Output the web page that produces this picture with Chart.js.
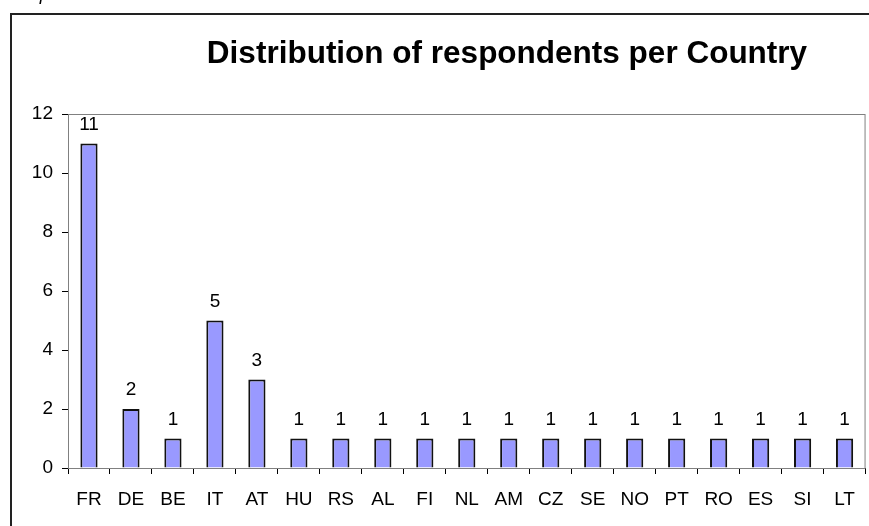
<!DOCTYPE html>
<html>
<head>
<meta charset="utf-8">
<script src="https://cdn.jsdelivr.net/npm/chart.js@4"></script>
<style>
  html, body { margin: 0; padding: 0; background: #fff; }
  canvas { display: block; }
</style>
</head>
<body>
<canvas id="chart" width="869" height="526"></canvas>
<script>
const countries = ['FR', 'DE', 'BE', 'IT', 'AT', 'HU', 'RS', 'AL', 'FI', 'NL', 'AM', 'CZ', 'SE', 'NO', 'PT', 'RO', 'ES', 'SI', 'LT'];
const respondents = [11, 2, 1, 5, 3, 1, 1, 1, 1, 1, 1, 1, 1, 1, 1, 1, 1, 1, 1];
const yTicks = [0, 2, 4, 6, 8, 10, 12];
const titleText = 'Distribution of respondents per Country';
const captionText = 'Graph';

// frame, plot border, title and the value labels over each bar
const decor = {
  id: 'decor',
  beforeDatasetsDraw(chart) {
    const { ctx, chartArea: a } = chart;
    ctx.save();
    ctx.strokeStyle = '#808080';
    ctx.lineWidth = 1;
    ctx.strokeRect(a.left + 0.5, a.top + 0.5, a.right - a.left - 1, a.bottom - a.top);
    ctx.restore();
  },
  afterDraw(chart) {
    const { ctx } = chart;
    ctx.save();
    ctx.fillStyle = '#222';
    ctx.fillRect(10, 13, 2, 526 - 13);
    ctx.fillRect(10, 13, 869 - 10, 2);

    ctx.fillStyle = '#000';
    ctx.font = 'italic 19px Arial, "Liberation Sans", sans-serif';
    ctx.textAlign = 'left';
    ctx.textBaseline = 'alphabetic';
    ctx.fillText(captionText, 8, 0);

    ctx.font = 'bold 31.5px Arial, "Liberation Sans", sans-serif';
    ctx.textAlign = 'center';
    ctx.fillText(titleText, 507, 63);

    ctx.font = '19px Arial, "Liberation Sans", sans-serif';
    const meta = chart.getDatasetMeta(0);
    meta.data.forEach((bar, i) => {
      ctx.fillText(String(respondents[i]), bar.x, bar.y - 14);
    });
    ctx.restore();
  }
};

new Chart(document.getElementById('chart'), {
  type: 'bar',
  data: {
    labels: countries,
    datasets: [{
      data: respondents,
      backgroundColor: '#9999FF',
      borderColor: '#111',
      borderWidth: 2,
      barPercentage: 0.41,
      categoryPercentage: 1
    }]
  },
  options: {
    responsive: false,
    animation: false,
    layout: { padding: { left: 0, top: 114, right: 2, bottom: 0 } },
    plugins: {
      legend: { display: false },
      title: { display: false },
      tooltip: { enabled: false }
    },
    scales: {
      x: {
        afterFit: (s) => { s.height = 58; },
        grid: { offset: true, drawOnChartArea: false, drawTicks: true, tickLength: 6, color: '#000' },
        border: { display: true, color: '#000', width: 1 },
        ticks: { color: '#000', font: { family: 'Arial, "Liberation Sans", sans-serif', size: 19 }, padding: 14, maxRotation: 0, autoSkip: false }
      },
      y: {
        min: 0,
        max: 12,
        afterFit: (s) => { s.width = 68; },
        afterBuildTicks: (s) => { s.ticks = yTicks.map(v => ({ value: v })); },
        grid: { drawOnChartArea: false, drawTicks: true, tickLength: 6, color: '#000' },
        border: { display: true, color: '#000', width: 1 },
        ticks: { color: '#000', font: { family: 'Arial, "Liberation Sans", sans-serif', size: 19 }, padding: 9 }
      }
    }
  },
  plugins: [decor]
});
</script>
</body>
</html>
